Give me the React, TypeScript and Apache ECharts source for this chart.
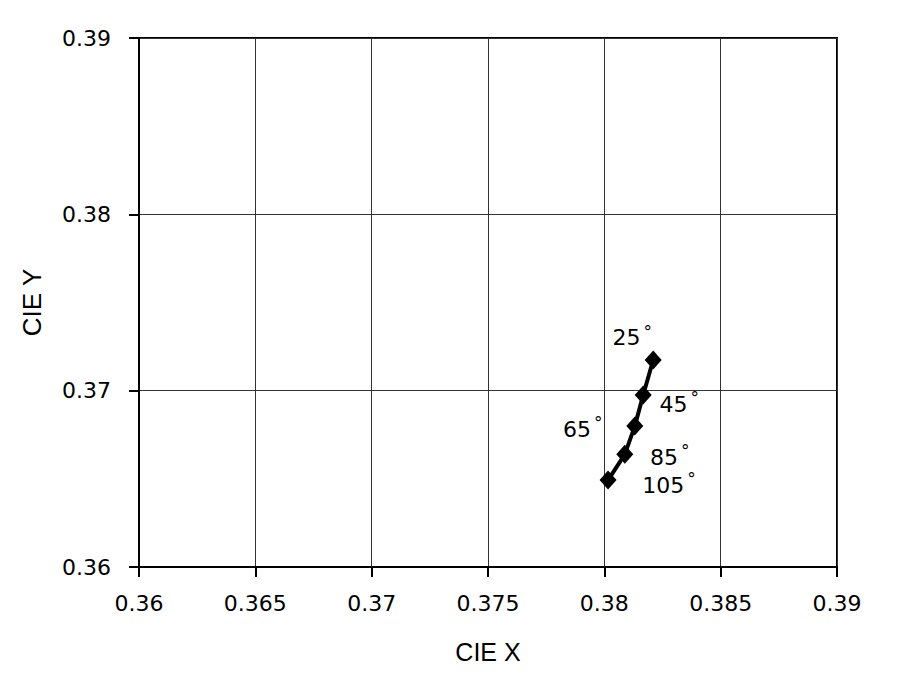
import React, { useEffect, useRef } from "react";
import * as echarts from "echarts";

const cieX = [0.3821, 0.38167, 0.38131, 0.38088, 0.38016];
const cieY = [0.37174, 0.36975, 0.36799, 0.36639, 0.36493];
const angles = ["25", "45", "65", "85", "105"];
const xTicks = { min: 0.36, max: 0.39, step: 0.005 };
const yTicks = { min: 0.36, max: 0.39, step: 0.01 };

// label placement (style, pixels relative to marker)
const labelOffsets: [number, number][] = [
  [-21, -22],
  [36, 9],
  [-52, 3],
  [45, 3],
  [61, 5],
];

export default function App() {
  const ref = useRef<HTMLDivElement>(null);
  useEffect(() => {
    document.body.style.margin = "0";
    const chart = echarts.init(ref.current!, null, { renderer: "svg" });
    const data = cieX.map((x, i) => ({
      value: [x, cieY[i]],
      label: {
        show: true,
        position: "inside",
        offset: labelOffsets[i],
        formatter: `{n|${angles[i]}}{d|°}`,
      },
    }));
    chart.setOption({
      animation: false,
      backgroundColor: "#fff",
      grid: {
        left: 139,
        top: 38,
        right: 63,
        bottom: 123,
        show: true,
        borderColor: "#000",
        borderWidth: 2,
      },
      xAxis: {
        type: "value",
        min: xTicks.min,
        max: xTicks.max,
        interval: xTicks.step,
        name: "CIE X",
        nameLocation: "middle",
        nameGap: 72,
        nameTextStyle: { fontFamily: "Liberation Sans", fontSize: 25, color: "#000" },
        axisLine: { show: true, onZero: false, lineStyle: { color: "#000", width: 2 } },
        axisTick: { show: true, inside: false, length: 10, lineStyle: { color: "#000", width: 2 } },
        axisLabel: { margin: 25, fontFamily: "DejaVu Sans", fontSize: 22, color: "#000" },
        splitLine: { show: true, lineStyle: { color: "#333", width: 1 } },
      },
      yAxis: {
        type: "value",
        min: yTicks.min,
        max: yTicks.max,
        interval: yTicks.step,
        name: "CIE Y",
        nameLocation: "middle",
        nameGap: 94,
        nameTextStyle: { fontFamily: "Liberation Sans", fontSize: 26, color: "#000" },
        axisLine: { show: true, onZero: false, lineStyle: { color: "#000", width: 2 } },
        axisTick: { show: true, inside: false, length: 10, lineStyle: { color: "#000", width: 2 } },
        axisLabel: { margin: 28, fontFamily: "DejaVu Sans", fontSize: 22, color: "#000" },
        splitLine: { show: true, lineStyle: { color: "#333", width: 1 } },
      },
      series: [
        {
          type: "line",
          data,
          symbol: "diamond",
          symbolSize: [17, 19],
          lineStyle: { color: "#000", width: 4 },
          itemStyle: { color: "#000" },
          label: {
            rich: {
              n: { fontFamily: "DejaVu Sans", fontSize: 22, color: "#000" },
              d: { fontFamily: "DejaVu Sans", fontSize: 17, color: "#000", padding: [0, 0, 12, 3] },
            },
          },
        },
      ],
    });
    return () => chart.dispose();
  }, []);
  return <div ref={ref} style={{ width: 900, height: 690 }} />;
}
